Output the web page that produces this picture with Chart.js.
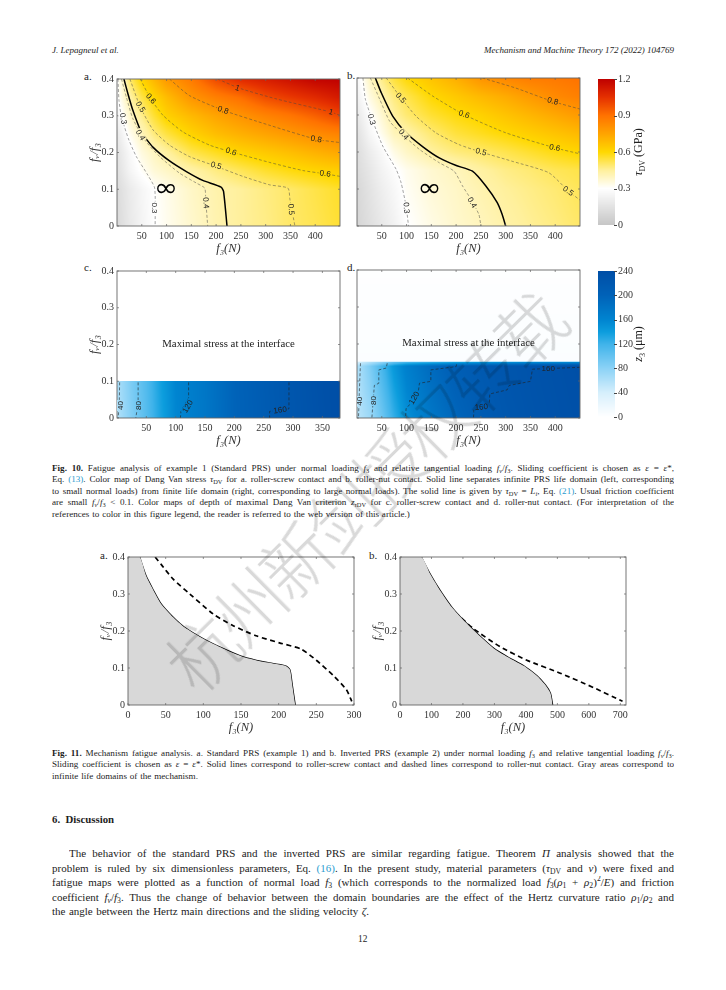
<!DOCTYPE html>
<html><head><meta charset="utf-8">
<script src="https://cdn.jsdelivr.net/npm/chart.js@4/dist/chart.umd.min.js"></script>
<style>
html,body{margin:0;padding:0;background:#fff;}
body{width:726px;height:990px;position:relative;overflow:hidden;font-family:"Liberation Serif",serif;color:#1c1c1c;}
canvas{position:absolute;display:block;}
.t{position:absolute;white-space:nowrap;}
.j{position:absolute;left:52px;width:622px;text-align:justify;text-align-last:justify;height:13px;overflow:hidden;}
.cap{font-size:9.1px;line-height:11px;}
.body{font-size:11px;line-height:13px;}
.l{color:#2b9cd0;}
sub{font-size:70%;line-height:0;vertical-align:-0.25em;}
sup{font-size:70%;line-height:0;}
.pl{position:absolute;font-size:11px;line-height:11px;color:#222;}
#wm{position:absolute;left:363px;top:491px;transform:translate(-50%,-50%) rotate(-44.7deg);font-family:"Noto Sans CJK SC";font-size:70px;letter-spacing:-4.4px;color:#d9d9d9;white-space:nowrap;mix-blend-mode:multiply;line-height:70px;font-weight:300;z-index:5;}
</style></head><body>
<div class="t" style="left:52px;top:44.5px;font-size:9px;font-style:italic">J. Lepagneul et al.</div>
<div class="t" style="right:52px;top:44.5px;font-size:9px;font-style:italic">Mechanism and Machine Theory 172 (2022) 104769</div>

<div class="pl" style="left:84px;top:71px">a.</div>
<div class="pl" style="left:347px;top:70px">b.</div>
<div class="pl" style="left:84px;top:262px">c.</div>
<div class="pl" style="left:347px;top:262px">d.</div>
<div class="pl" style="left:100px;top:550px">a.</div>
<div class="pl" style="left:369px;top:550px">b.</div>

<div class="j cap" style="top:462.5px"><b>Fig. 10.</b> Fatigue analysis of example 1 (Standard PRS) under normal loading <i>f</i><sub>3</sub> and relative tangential loading <i>f</i><sub><i>v</i></sub>/<i>f</i><sub>3</sub>. Sliding coefficient is chosen as <i>ε</i> = <i>ε</i>*,</div>
<div class="j cap" style="top:474px">Eq. <span class="l">(13)</span>. Color map of Dang Van stress <i>τ</i><sub>DV</sub> for a. roller-screw contact and b. roller-nut contact. Solid line separates infinite PRS life domain (left, corresponding</div>
<div class="j cap" style="top:485.5px">to small normal loads) from finite life domain (right, corresponding to large normal loads). The solid line is given by <i>τ</i><sub>DV</sub> = <i>L</i><sub><i>i</i></sub>, Eq. <span class="l">(21)</span>. Usual friction coefficient</div>
<div class="j cap" style="top:497px">are small <i>f</i><sub><i>v</i></sub>/<i>f</i><sub>3</sub> &lt; 0.1. Color maps of depth of maximal Dang Van criterion <i>z</i><sub><i>τ</i>DV</sub> for c. roller-screw contact and d. roller-nut contact. (For interpretation of the</div>
<div class="t cap" style="left:52px;top:508.5px;word-spacing:.6px">references to color in this figure legend, the reader is referred to the web version of this article.)</div>

<div class="j cap" style="top:747.5px"><b>Fig. 11.</b> Mechanism fatigue analysis. a. Standard PRS (example 1) and b. Inverted PRS (example 2) under normal loading <i>f</i><sub>3</sub> and relative tangential loading <i>f</i><sub><i>v</i></sub>/<i>f</i><sub>3</sub>.</div>
<div class="j cap" style="top:759px">Sliding coefficient is chosen as <i>ε</i> = <i>ε</i>*. Solid lines correspond to roller-screw contact and dashed lines correspond to roller-nut contact. Gray areas correspond to</div>
<div class="t cap" style="left:52px;top:770.5px;word-spacing:.6px">infinite life domains of the mechanism.</div>

<div class="t" style="left:52px;top:812.5px;font-size:10.8px;font-weight:bold">6.&nbsp; Discussion</div>

<div class="j body" style="left:69px;width:605px;top:847px">The behavior of the standard PRS and the inverted PRS are similar regarding fatigue. Theorem <i>Π</i> analysis showed that the</div>
<div class="j body" style="top:861.5px">problem is ruled by six dimensionless parameters, Eq. <span class="l">(16)</span>. In the present study, material parameters (<i>τ</i><sub>DV</sub> and <i>ν</i>) were fixed and</div>
<div class="j body" style="top:876px">fatigue maps were plotted as a function of normal load <i>f</i><sub>3</sub> (which corresponds to the normalized load <i>f</i><sub>3</sub>(<i>ρ</i><sub>1</sub> + <i>ρ</i><sub>2</sub>)<sup>2</sup>/<i>E</i>) and friction</div>
<div class="j body" style="top:890.5px">coefficient <i>f</i><sub><i>v</i></sub>/<i>f</i><sub>3</sub>. Thus the change of behavior between the domain boundaries are the effect of the Hertz curvature ratio <i>ρ</i><sub>1</sub>/<i>ρ</i><sub>2</sub> and</div>
<div class="t body" style="left:52px;top:905px;word-spacing:.7px">the angle between the Hertz main directions and the sliding velocity <i>ζ</i>.</div>
<div class="t" style="left:358px;top:934px;font-size:9.4px">12</div>

<div id="wm">杭州新剑授权转载</div>

<script>
/* ---------- tick labels ---------- */
const tickFratio=[0,0.1,0.2,0.3,0.4];
const tickF3_450=[50,100,150,200,250,300,350,400];
const tickF3_380=[50,100,150,200,250,300,350];
const tickF3_300=[0,50,100,150,200,250,300];
const tickF3_700=[0,100,200,300,400,500,600,700];
const tickTau=[0,0.3,0.6,0.9,1.2];
const tickDepth=[0,40,80,120,160,200,240];

/* ---------- colour scales ---------- */
const hotStops=[[0,'#c6c6c6'],[0.3,'#ffffff'],[0.45,'#fff09c'],[0.6,'#ffd800'],[0.75,'#ffa400'],[0.9,'#ff7200'],[1.05,'#e53000'],[1.2,'#bf0000']];
const blueStops=[[0,'#ffffff'],[40,'#d6effc'],[80,'#8bd2f6'],[120,'#3fb3ea'],[140,'#0c9ddd'],[160,'#0084d0'],[200,'#0062b8'],[240,'#004ea6']];

/* ---------- Fig 10a: Dang Van stress (GPa) ---------- */
const mapF3=[0,25,50,75,100,150,200,250,300,350,400,450];
const mapRatio=[0,0.1,0.15,0.2,0.25,0.3,0.35,0.4];
const tauA0=[.10,.18,.24,.295,.325,.375,.42,.45,.47,.50,.52,.55];
const tauA1=[.11,.19,.25,.30,.33,.385,.425,.45,.475,.50,.53,.56];
const tauA2=[.13,.24,.31,.36,.385,.43,.475,.515,.555,.585,.61,.63];
const tauA3=[.15,.26,.35,.395,.44,.525,.57,.615,.645,.675,.71,.74];
const tauA4=[.18,.32,.40,.48,.535,.615,.675,.715,.75,.785,.82,.85];
const tauA5=[.24,.375,.465,.55,.62,.69,.75,.80,.85,.89,.94,1.0];
const tauA6=[.29,.43,.53,.61,.68,.795,.86,.91,.985,1.03,1.07,1.12];
const tauA7=[.29,.495,.615,.70,.785,.875,.995,1.07,1.11,1.15,1.19,1.2];
/* ---------- Fig 10b ---------- */
const tauB0=[.08,.13,.18,.23,.295,.34,.375,.40,.43,.455,.475,.50];
const tauB1=[.09,.15,.21,.26,.315,.36,.385,.42,.45,.47,.49,.515];
const tauB2=[.11,.17,.235,.285,.325,.37,.40,.44,.47,.49,.515,.53];
const tauB3=[.12,.20,.265,.34,.385,.445,.48,.50,.525,.555,.585,.61];
const tauB4=[.14,.25,.33,.405,.43,.49,.54,.57,.60,.63,.66,.69];
const tauB5=[.18,.29,.37,.445,.49,.55,.59,.62,.66,.70,.74,.78];
const tauB6=[.22,.345,.42,.48,.525,.60,.645,.69,.73,.78,.83,.86];
const tauB7=[.26,.39,.47,.545,.595,.66,.72,.80,.84,.87,.88,.90];
/* ---------- Fig 10c: depth (µm), map shown for fv/f3 < 0.1 ---------- */
const depthCF3=[0,25,50,75,100,150,200,250,300,350,380];
const depthCRatio=[0,0.1];
const depthC0=[60,85,108,135,158,175,198,212,224,234,240];
const depthC1=[62,88,110,138,160,176,199,213,225,235,240];
/* ---------- Fig 10d: map shown over the whole range ---------- */
const depthDRatio=[0,0.07,0.14,0.15,0.154,0.4];
const depthD0=[55,70,95,125,150,175,195,212,222,228,232,236];
const depthD1=[58,78,105,135,158,183,202,215,224,229,233,237];
const depthD2=[60,85,115,145,165,190,208,218,225,230,234,238];
const depthD3=[40,60,80,105,120,130,140,150,155,160,160,160];
const depthD4=[4,4,4,4,4,4,4,4,4,4,4,4];
const depthD5=[1,1,1,1,1,1,1,1,1,1,1,1];

/* ---------- contour lines [f3, fv/f3] ---------- */
const aSolid=[[14,.4],[22,.36],[32,.315],[49,.256],[73,.214],[106,.177],[140,.148],[173,.124],[210,.106],[215,.094],[222,0]];
const aC03=[[2,.4],[4,.342],[9,.297],[24,.234],[39,.189],[62,.139],[76,.103],[77,0]];
const aC04=[[9,.4],[19,.35],[32,.292],[56,.234],[86,.189],[126,.144],[160,.117],[177,.103],[179,.072],[183,0]];
const aC05=[[26,.4],[47,.324],[73,.261],[106,.22],[146,.189],[197,.164],[254,.135],[308,.112],[345,.103],[349,.072],[359,0]];
const aC06=[[47,.4],[68,.346],[93,.301],[133,.256],[187,.22],[230,.202],[308,.173],[375,.151],[420,.142],[450,.135]];
const aC08=[[106,.4],[146,.355],[214,.315],[308,.274],[402,.236],[450,.227]];
const aC10=[[203,.4],[247,.375],[321,.346],[432,.31],[450,.301]];
const bSolid=[[37,.4],[49,.36],[72,.297],[99,.252],[133,.214],[166,.184],[199,.164],[233,.148],[260,.108],[283,.063],[293,.031],[300,0]];
const bC03=[[12,.4],[17,.342],[32,.283],[52,.216],[79,.153],[89,.117],[99,.054],[104,0]];
const bC04=[[27,.4],[46,.342],[66,.283],[92,.247],[126,.207],[166,.171],[196,.148],[213,.108],[230,.072],[246,.031],[250,0]];
const bC05=[[59,.4],[89,.346],[119,.297],[159,.252],[206,.22],[250,.2],[313,.175],[387,.144],[427,.094],[450,.07]];
const bC06=[[102,.4],[153,.351],[216,.301],[300,.252],[400,.211],[450,.195]];
const bC08=[[253,.4],[320,.373],[394,.337],[450,.316]];
const cC40=[[4.5,.097],[4,.05],[2,0]];
const cC80=[[36,.097],[36,.04],[32,0]];
const cC120=[[122,.097],[122,.054],[109,.018],[108,0]];
const cC160=[[293,.097],[293,.025],[260,.018],[260,0]];
const dC40=[[7,.148],[5,.081],[3,0]];
const dC80=[[61,.148],[59,.135],[44,.13],[44,.094],[35,.088],[32,.036],[30,0]];
const dC120=[[201,.145],[200,.139],[149,.13],[149,.099],[126,.094],[123,.063],[99,.025],[98,0]];
const dC160=[[450,.137],[354,.132],[350,.099],[307,.088],[303,.076],[268,.065],[267,.04],[236,.022],[235,0]];

/* ---------- Fig 11 boundaries ---------- */
const f11aSolid=[[15.5,.4],[24,.349],[33,.313],[44,.273],[60,.237],[75,.21],[100,.179],[126,.153],[153,.13],[179,.117],[209,.106],[215,.095],[218,.055],[222,0]];
const f11aDash=[[36,.4],[44,.38],[60,.34],[82,.3],[113,.246],[139,.215],[170,.187],[201,.168],[230,.151],[250,.121],[272,.081],[290,.041],[297,.01]];
const f11bSolid=[[68,.4],[96,.354],[128,.309],[165,.264],[202,.229],[245,.193],[298,.153],[350,.126],[393,.106],[435,.079],[462,.054],[478,.032],[485,0]];
const f11bDash=[[54,.4],[80,.354],[118,.304],[170,.255],[234,.206],[319,.157],[403,.121],[509,.086],[615,.047],[707,.01]];

/* ---------- plugins ---------- */
const hex=h=>[1,3,5].map(i=>parseInt(h.substr(i,2),16));
function cmap(stops,v){
  if(v<=stops[0][0])return hex(stops[0][1]);
  for(let i=1;i<stops.length;i++){
    if(v<=stops[i][0]){
      const t=(v-stops[i-1][0])/(stops[i][0]-stops[i-1][0]);
      const a=hex(stops[i-1][1]),b=hex(stops[i][1]);
      return a.map((c,k)=>c+(b[k]-c)*t);
    }
  }
  return hex(stops[stops.length-1][1]);
}
function seg(arr,v){let i=0;while(i<arr.length-2&&v>arr[i+1])i++;const t=Math.max(0,Math.min(1,(v-arr[i])/(arr[i+1]-arr[i])));return[i,t];}
const heatPlugin={id:'heat',beforeDatasetsDraw(chart,args,o){
  if(!o.rows)return;
  const a=chart.chartArea,X=chart.scales.x,Y=chart.scales.y;
  const L=Math.floor(a.left),T=Math.floor(a.top),W=Math.ceil(a.right)-L,H=Math.ceil(a.bottom)-T;
  const off=document.createElement('canvas');off.width=W;off.height=H;
  const c=off.getContext('2d'),img=c.createImageData(W,H);
  const yMax=o.ys[o.ys.length-1],yMin=o.ys[0];
  for(let py=0;py<H;py++){
    const vy=Y.getValueForPixel(T+py+.5);
    let j=0,ty=0;
    if(vy>yMax||vy<yMin){
      for(let px=0;px<W;px++){const k=(py*W+px)*4;img.data[k]=img.data[k+1]=img.data[k+2]=img.data[k+3]=255;}
      continue;
    }
    [j,ty]=seg(o.ys,vy);
    for(let px=0;px<W;px++){
      const vx=X.getValueForPixel(L+px+.5);
      const[i,tx]=seg(o.xs,vx);
      const r0=o.rows[j],r1=o.rows[j+1];
      const v=(r0[i]*(1-tx)+r0[i+1]*tx)*(1-ty)+(r1[i]*(1-tx)+r1[i+1]*tx)*ty;
      const col=cmap(o.stops,v),k=(py*W+px)*4;
      img.data[k]=col[0];img.data[k+1]=col[1];img.data[k+2]=col[2];img.data[k+3]=255;
    }
  }
  c.putImageData(img,0,0);
  chart.$heat={off,L,T};
  const g=chart.ctx;g.save();g.beginPath();g.rect(a.left,a.top,a.width,a.height);g.clip();g.drawImage(off,L,T);g.restore();
}};
const framePlugin={id:'frame',afterDatasetsDraw(chart,args,o){
  const g=chart.ctx,a=chart.chartArea;g.save();
  if(o.bar){
    g.strokeStyle='#444';g.lineWidth=1;
    chart.scales.y.ticks.forEach(t=>{const p=Math.round(chart.scales.y.getPixelForValue(t.value))+.5;g.beginPath();g.moveTo(a.right-1,p);g.lineTo(a.right+2,p);g.stroke();});
  }else{
    g.strokeStyle='#666';g.lineWidth=.9;
    g.strokeRect(a.left,a.top,a.width,a.height);
    g.lineWidth=.7;
    chart.scales.x.ticks.forEach(t=>{const p=chart.scales.x.getPixelForValue(t.value);g.beginPath();g.moveTo(p,a.bottom);g.lineTo(p,a.bottom-2);g.moveTo(p,a.top);g.lineTo(p,a.top+2);g.stroke();});
    chart.scales.y.ticks.forEach(t=>{const p=chart.scales.y.getPixelForValue(t.value);g.beginPath();g.moveTo(a.left,p);g.lineTo(a.left+2,p);g.moveTo(a.right,p);g.lineTo(a.right-2,p);g.stroke();});
  }
  g.restore();
}};
const notePlugin={id:'notes',afterDraw(chart,args,o){
  if(!o.items)return;
  const g=chart.ctx;
  o.items.forEach(n=>{
    const px=chart.scales.x.getPixelForValue(n.x),py=chart.scales.y.getPixelForValue(n.y),rad=(n.rot||0)*Math.PI/180;
    g.save();
    g.font=n.font||'8px "Liberation Sans"';
    if(n.gap&&chart.$heat){
      /* open a gap in the contour under its label by repainting the map there */
      const w=g.measureText(n.text).width+2;
      g.save();g.translate(px,py);g.rotate(rad);g.beginPath();g.rect(-w/2,-4,w,8);g.restore();
      g.clip();g.drawImage(chart.$heat.off,chart.$heat.L,chart.$heat.T);
      g.restore();g.save();g.font=n.font||'8px "Liberation Sans"';
    }
    g.translate(px,py);g.rotate(rad);
    if(n.sx)g.scale(n.sx,1);
    g.fillStyle=n.color||'#222';
    g.textAlign='center';g.textBaseline='middle';
    g.fillText(n.text,0,0);g.restore();
  });
}};
const barTitlePlugin={id:'barTitle',afterDraw(chart,args,o){
  if(!o.parts)return;
  const g=chart.ctx,a=chart.chartArea;
  g.save();g.translate(a.right+o.dx,(a.top+a.bottom)/2);g.rotate(-Math.PI/2);
  g.fillStyle='#222';g.textBaseline='alphabetic';
  const fonts=p=>(p.i?'italic ':'')+(p.sub?8:12)+'px "Liberation Serif"';
  let w=0;o.parts.forEach(p=>{g.font=fonts(p);w+=g.measureText(p.t).width;});
  let x=-w/2;o.parts.forEach(p=>{g.font=fonts(p);g.fillText(p.t,x,p.sub?2.5:0);x+=g.measureText(p.t).width;});
  g.restore();
}};

/* ---------- helpers ---------- */
const pts=a=>a.map(p=>({x:p[0],y:p[1]}));
const contour=a=>({data:pts(a),showLine:true,pointRadius:0,borderColor:'#444',borderWidth:.5,borderDash:[3,2],tension:.2,fill:false});
const step=a=>({data:pts(a),showLine:true,pointRadius:0,borderColor:'#222',borderWidth:.6,borderDash:[3,2],tension:0,fill:false});
const solid=(a,w)=>({data:pts(a),showLine:true,pointRadius:0,borderColor:'#000',borderWidth:w,tension:.2,fill:false});
const dash=a=>({data:pts(a),showLine:true,pointRadius:0,borderColor:'#000',borderWidth:1.7,borderDash:[5,3.5],tension:.2,fill:false});
function panel(b){
  const yw=b.yLabels?30:4,xh=30,pt=8,pr=12;
  const cv=document.createElement('canvas');
  cv.width=b.R-b.L+yw+pr;cv.height=b.B-b.T+pt+xh;
  cv.style.left=(b.L-yw)+'px';cv.style.top=(b.T-pt)+'px';
  document.body.appendChild(cv);
  new Chart(cv,{type:'scatter',data:{datasets:b.datasets},plugins:[heatPlugin,framePlugin,notePlugin],options:{
    responsive:false,animation:false,devicePixelRatio:1,
    layout:{padding:{top:pt,right:pr,left:0,bottom:0}},
    plugins:{legend:{display:false},tooltip:{enabled:false},heat:b.heat||{},frame:{},notes:{items:b.notes||[]}},
    scales:{
      x:{type:'linear',min:b.xMin,max:b.xMax,grid:{display:false,drawTicks:false},border:{display:false},
        afterBuildTicks:s=>{s.ticks=b.xTicks.map(v=>({value:v}));},
        afterFit:s=>{s.height=xh;},
        ticks:{font:{family:'Liberation Serif',size:10},color:'#333',padding:4,maxRotation:0,autoSkip:false,callback:v=>String(v)},
        title:{display:true,text:'f₃(N)',font:{family:'Liberation Serif',size:12.5,style:'italic'},color:'#333',padding:{top:0,bottom:0}}},
      y:{type:'linear',min:0,max:0.4,grid:{display:false,drawTicks:false},border:{display:false},
        afterBuildTicks:s=>{s.ticks=tickFratio.map(v=>({value:v}));},
        afterFit:s=>{s.width=yw;},
        ticks:{display:b.yLabels,font:{family:'Liberation Serif',size:10},color:'#333',padding:3,autoSkip:false,callback:v=>String(v)},
        title:{display:b.yLabels,text:'fᵥ/f₃',font:{family:'Liberation Serif',size:13,style:'italic'},color:'#333',padding:{top:0,bottom:0}}}
    }}});
}
function colorbar(b){
  const pt=8,pr=24;
  const cv=document.createElement('canvas');
  cv.width=b.R-b.L+pr+14;cv.height=b.B-b.T+pt+8;
  cv.style.left=b.L+'px';cv.style.top=(b.T-pt)+'px';
  document.body.appendChild(cv);
  new Chart(cv,{type:'scatter',data:{datasets:[]},plugins:[heatPlugin,framePlugin,barTitlePlugin],options:{
    responsive:false,animation:false,devicePixelRatio:1,
    layout:{padding:{top:pt,right:14,left:0,bottom:8}},
    plugins:{legend:{display:false},tooltip:{enabled:false},
      heat:{xs:[0,1],ys:b.ticks,rows:b.ticks.map(v=>[v,v]),stops:b.stops},frame:{bar:true},
      barTitle:{parts:b.title,dx:b.dx}},
    scales:{
      x:{type:'linear',min:0,max:1,display:false},
      y:{type:'linear',position:'right',min:b.ticks[0],max:b.ticks[b.ticks.length-1],grid:{display:false,drawTicks:false},border:{display:false},
        afterBuildTicks:s=>{s.ticks=b.ticks.map(v=>({value:v}));},
        afterFit:s=>{s.width=pr;},
        ticks:{font:{family:'Liberation Serif',size:10},color:'#333',padding:3,autoSkip:false,callback:v=>String(v)}}
    }}});
}
const inf='25px "DejaVu Sans"';
const max='10.8px "Liberation Serif"';
const n=(text,x,y,rot)=>({text,x,y,rot,gap:true});

/* ---------- Fig 10 ---------- */
panel({L:117.3,R:340.7,T:78.3,B:226.7,xMin:0,xMax:450,xTicks:tickF3_450,yLabels:true,
  heat:{xs:mapF3,ys:mapRatio,rows:[tauA0,tauA1,tauA2,tauA3,tauA4,tauA5,tauA6,tauA7],stops:hotStops},
  datasets:[contour(aC03),contour(aC04),contour(aC05),contour(aC06),contour(aC08),contour(aC10),solid(aSolid,1.5)],
  notes:[n('0.3',12,.292,80),n('0.3',75,.049,90),n('0.4',47,.247,60),n('0.4',179,.063,85),
    n('0.5',47,.324,60),n('0.5',200,.164,15),n('0.5',351,.045,85),n('0.6',68,.346,50),n('0.6',230,.202,20),n('0.6',420,.142,8),
    n('0.8',214,.315,20),n('0.8',402,.236,10),n('1',243,.375,20),n('1',432,.31,15),
    {text:'∞',x:99,y:.099,font:inf,color:'#000',sx:1.15}]});
panel({L:357.3,R:581.3,T:78.3,B:226.7,xMin:0,xMax:450,xTicks:tickF3_450,yLabels:false,
  heat:{xs:mapF3,ys:mapRatio,rows:[tauB0,tauB1,tauB2,tauB3,tauB4,tauB5,tauB6,tauB7],stops:hotStops},
  datasets:[contour(bC03),contour(bC04),contour(bC05),contour(bC06),contour(bC08),solid(bSolid,1.5)],
  notes:[n('0.3',29,.288,75),n('0.3',99,.049,85),n('0.4',94,.247,50),n('0.4',232,.063,60),
    n('0.5',88,.346,50),n('0.5',250,.2,15),n('0.5',426,.094,35),n('0.6',216,.301,20),n('0.6',399,.211,12),n('0.8',395,.337,15),
    {text:'∞',x:146,y:.099,font:inf,color:'#000',sx:1.15}]});
colorbar({L:598.3,R:615.3,T:78.3,B:226.7,ticks:tickTau,stops:hotStops,dx:27,
  title:[{t:'τ',i:1},{t:'DV',sub:1},{t:' (GPa)'}]});

panel({L:117.3,R:340.7,T:269.7,B:418.3,xMin:0,xMax:380,xTicks:tickF3_380,yLabels:true,
  heat:{xs:depthCF3,ys:depthCRatio,rows:[depthC0,depthC1],stops:blueStops},
  datasets:[step(cC40),step(cC80),step(cC120),step(cC160)],
  notes:[n('40',6,.034,-90),n('80',37,.034,-90),n('120',121,.031,-60),n('160',278,.021,-8),
    {text:'Maximal stress at the interface',x:190,y:.202,font:max}]});
panel({L:357.3,R:581.3,T:269.7,B:418.3,xMin:0,xMax:450,xTicks:tickF3_450,yLabels:false,
  heat:{xs:mapF3,ys:depthDRatio,rows:[depthD0,depthD1,depthD2,depthD3,depthD4,depthD5],stops:blueStops},
  datasets:[step(dC40),step(dC80),step(dC120),step(dC160)],
  notes:[n('40',5,.045,-90),n('80',34,.047,-90),n('120',116,.054,-60),n('160',386,.132,0),n('160',251,.029,-5),
    {text:'Maximal stress at the interface',x:225,y:.202,font:max}]});
colorbar({L:598.3,R:615.3,T:269.7,B:418.3,ticks:tickDepth,stops:blueStops,dx:27,
  title:[{t:'z',i:1},{t:'3',sub:1},{t:' (μm)'}]});

/* ---------- Fig 11 ---------- */
const gray=(a)=>({data:pts([[0,a[0][1]],...a]),showLine:true,pointRadius:0,borderWidth:0,borderColor:'transparent',backgroundColor:'#d8d8d8',fill:'origin',tension:.2});
panel({L:128.3,R:354.3,T:556,B:705.3,xMin:0,xMax:300,xTicks:tickF3_300,yLabels:true,
  datasets:[gray(f11aSolid),solid(f11aSolid,1.3),dash(f11aDash)]});
panel({L:399.7,R:625.7,T:556,B:705.3,xMin:0,xMax:718,xTicks:tickF3_700,yLabels:true,
  datasets:[gray(f11bSolid),solid(f11bSolid,1.3),dash(f11bDash)]});
</script>
</body></html>
